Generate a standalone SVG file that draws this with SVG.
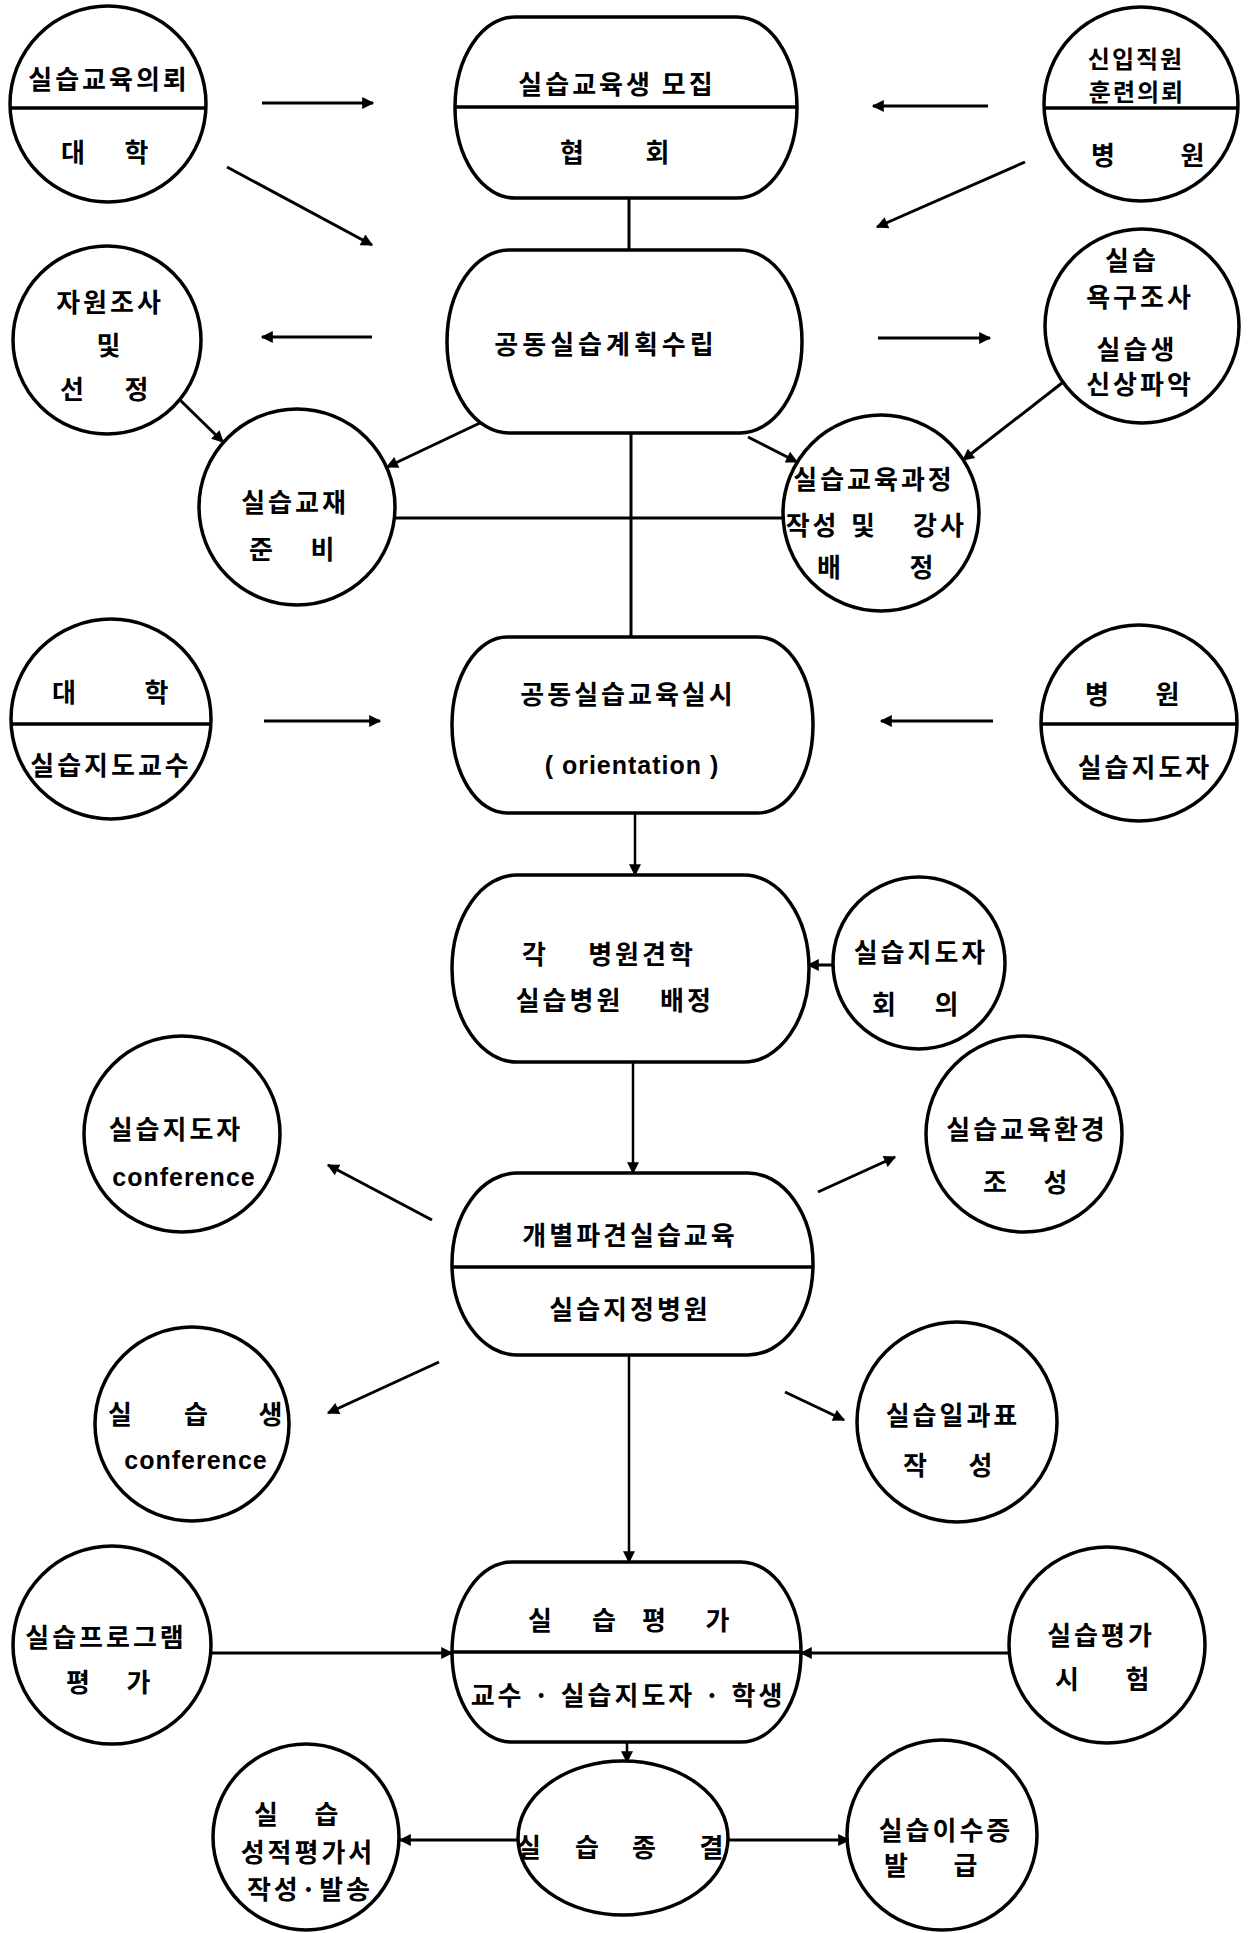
<svg xmlns="http://www.w3.org/2000/svg" width="1249" height="1933" viewBox="0 0 1249 1933">
<defs>
<style>
.nd{fill:#fff;stroke:#000;stroke-width:3.5}
.dv{stroke:#000;stroke-width:3.5;fill:none}
.t{font-family:"Noto Sans CJK KR","Noto Sans",sans-serif;font-weight:700;font-size:26px;letter-spacing:3px;text-anchor:middle;dominant-baseline:central;fill:#000}
.s{font-size:24px;letter-spacing:2px}
.en{font-family:"Liberation Sans",Arial,sans-serif;font-weight:700;font-size:25px;letter-spacing:1px}
.c{stroke:#000;stroke-width:3;fill:none}
.cv{stroke:#000;stroke-width:2.5;fill:none}
.a{marker-end:url(#ah)}
</style>
<marker id="ah" viewBox="0 0 10 10" refX="9" refY="5" markerWidth="15" markerHeight="12" markerUnits="userSpaceOnUse" orient="auto">
<path d="M0,0 L10,5 L0,10 z" fill="#000"/>
</marker>
</defs>
<rect width="1249" height="1933" fill="#fff"/>

<g id="connectors">
<line class="c a" x1="262" y1="103" x2="373" y2="103"/>
<line class="c a" x1="227" y1="167" x2="372" y2="245"/>
<line class="c a" x1="988" y1="106" x2="873" y2="106"/>
<line class="c a" x1="1025" y1="162" x2="877" y2="227"/>
<line class="c" x1="629" y1="198" x2="629" y2="250"/>
<line class="c a" x1="372" y1="337" x2="262" y2="337"/>
<line class="c a" x1="878" y1="338" x2="990" y2="338"/>
<line class="c a" x1="180" y1="400" x2="223" y2="442"/>
<line class="c a" x1="482" y1="422" x2="387" y2="467"/>
<line class="c a" x1="748" y1="437" x2="797" y2="462"/>
<line class="c a" x1="1062" y1="383" x2="963" y2="460"/>
<line class="c" x1="395" y1="518" x2="783" y2="518"/>
<line class="c" x1="631" y1="433" x2="631" y2="637"/>
<line class="c a" x1="264" y1="721" x2="380" y2="721"/>
<line class="c a" x1="993" y1="721" x2="881" y2="721"/>
<line class="cv a" x1="635" y1="813" x2="635" y2="875"/>
<line class="c a" x1="835" y1="965" x2="808" y2="965"/>
<line class="cv a" x1="633" y1="1062" x2="633" y2="1173"/>
<line class="c a" x1="432" y1="1220" x2="328" y2="1165"/>
<line class="c a" x1="818" y1="1192" x2="895" y2="1157"/>
<line class="c a" x1="439" y1="1362" x2="328" y2="1413"/>
<line class="c a" x1="785" y1="1392" x2="844" y2="1420"/>
<line class="cv a" x1="629" y1="1355" x2="629" y2="1562"/>
<line class="c a" x1="210" y1="1653" x2="452" y2="1653"/>
<line class="c a" x1="1009" y1="1653" x2="801" y2="1653"/>
<line class="cv a" x1="627" y1="1742" x2="627" y2="1762"/>
<line class="c a" x1="518" y1="1840" x2="400" y2="1840"/>
<line class="c a" x1="728" y1="1840" x2="849" y2="1840"/>
</g>

<g id="n-request-univ">
<circle class="nd" cx="108" cy="104" r="98"/>
<line class="dv" x1="10" y1="108" x2="206" y2="108"/>
<text class="t" x="109" y="77">실습교육의뢰</text>
<text class="t" y="150"><tspan x="79">대</tspan> <tspan x="138">학</tspan></text>
</g>

<g id="n-recruit">
<rect class="nd" x="455" y="17" width="342" height="181" rx="60" ry="90.5"/>
<line class="dv" x1="455" y1="107" x2="797" y2="107"/>
<text class="t" x="617" y="82" xml:space="preserve">실습교육생 모집</text>
<text class="t" y="150"><tspan x="578">협</tspan> <tspan x="659">회</tspan></text>
</g>

<g id="n-request-hosp">
<circle class="nd" cx="1141" cy="104" r="97"/>
<line class="dv" x1="1044" y1="108" x2="1238" y2="108"/>
<text class="t s" x="1136" y="57">신입직원</text>
<text class="t s" x="1137" y="90">훈련의뢰</text>
<text class="t" y="153"><tspan x="1109">병</tspan> <tspan x="1194">원</tspan></text>
</g>

<g id="n-resource">
<circle class="nd" cx="107" cy="340" r="94"/>
<text class="t" x="110" y="300">자원조사</text>
<text class="t" x="110" y="343">및</text>
<text class="t" y="387"><tspan x="78">선</tspan> <tspan x="138">정</tspan></text>
</g>

<g id="n-plan">
<rect class="nd" x="447" y="250" width="355" height="183" rx="62" ry="91.5"/>
<text class="t" x="606" y="342" style="letter-spacing:4px">공동실습계획수립</text>
</g>

<g id="n-needs">
<circle class="nd" cx="1142" cy="326" r="97"/>
<text class="t" x="1132" y="258">실습</text>
<text class="t" x="1140" y="295">욕구조사</text>
<text class="t" x="1137" y="347">실습생</text>
<text class="t" x="1140" y="382">신상파악</text>
</g>

<g id="n-material">
<circle class="nd" cx="297" cy="507" r="98"/>
<text class="t" x="295" y="500">실습교재</text>
<text class="t" y="547"><tspan x="267">준</tspan> <tspan x="324">비</tspan></text>
</g>

<g id="n-curriculum">
<circle class="nd" cx="881" cy="513" r="98"/>
<text class="t" x="874" y="477">실습교육과정</text>
<text class="t" y="523"><tspan x="817">작성</tspan> <tspan x="869">및</tspan> <tspan x="940">강사</tspan></text>
<text class="t" y="565"><tspan x="835">배</tspan> <tspan x="923">정</tspan></text>
</g>

<g id="n-univ-prof">
<circle class="nd" cx="111" cy="719" r="100"/>
<line class="dv" x1="11" y1="724" x2="211" y2="724"/>
<text class="t" y="690"><tspan x="70">대</tspan> <tspan x="158">학</tspan></text>
<text class="t" x="111" y="763">실습지도교수</text>
</g>

<g id="n-orientation">
<rect class="nd" x="452" y="637" width="361" height="176" rx="55" ry="88"/>
<text class="t" x="628" y="692">공동실습교육실시</text>
<text class="t en" x="632" y="765" xml:space="preserve">( orientation )</text>
</g>

<g id="n-hosp-inst">
<circle class="nd" cx="1139" cy="723" r="98"/>
<line class="dv" x1="1041" y1="724" x2="1237" y2="724"/>
<text class="t" y="692"><tspan x="1103">병</tspan> <tspan x="1169">원</tspan></text>
<text class="t" x="1145" y="765">실습지도자</text>
</g>

<g id="n-tour">
<rect class="nd" x="452" y="875" width="357" height="187" rx="65" ry="93.5"/>
<text class="t" y="952"><tspan x="540">각</tspan> <tspan x="642">병원견학</tspan></text>
<text class="t" y="998"><tspan x="574">실습병원</tspan> <tspan x="687">배정</tspan></text>
</g>

<g id="n-inst-meeting">
<circle class="nd" cx="919" cy="963" r="86"/>
<text class="t" x="921" y="950">실습지도자</text>
<text class="t" y="1002"><tspan x="890">회</tspan> <tspan x="948">의</tspan></text>
</g>

<g id="n-inst-conf">
<circle class="nd" cx="182" cy="1134" r="98"/>
<text class="t" x="176" y="1127">실습지도자</text>
<text class="t en" x="184" y="1177">conference</text>
</g>

<g id="n-environment">
<circle class="nd" cx="1024" cy="1134" r="98"/>
<text class="t" x="1027" y="1127">실습교육환경</text>
<text class="t" y="1180"><tspan x="1001">조</tspan> <tspan x="1057">성</tspan></text>
</g>

<g id="n-dispatch">
<rect class="nd" x="452" y="1173" width="361" height="182" rx="65" ry="91"/>
<line class="dv" x1="452" y1="1267" x2="813" y2="1267"/>
<text class="t" x="630" y="1233">개별파견실습교육</text>
<text class="t" x="630" y="1307">실습지정병원</text>
</g>

<g id="n-student-conf">
<circle class="nd" cx="192" cy="1424" r="97"/>
<text class="t" y="1412"><tspan x="126">실</tspan> <tspan x="202">습</tspan> <tspan x="272">생</tspan></text>
<text class="t en" x="196" y="1460">conference</text>
</g>

<g id="n-schedule">
<circle class="nd" cx="957" cy="1422" r="100"/>
<text class="t" x="953" y="1413">실습일과표</text>
<text class="t" y="1463"><tspan x="921">작</tspan> <tspan x="982">성</tspan></text>
</g>

<g id="n-program-eval">
<circle class="nd" cx="112" cy="1645" r="99"/>
<text class="t" x="106" y="1635">실습프로그램</text>
<text class="t" y="1680"><tspan x="84">평</tspan> <tspan x="140">가</tspan></text>
</g>

<g id="n-evaluation">
<rect class="nd" x="452" y="1562" width="349" height="180" rx="60" ry="90"/>
<line class="dv" x1="452" y1="1652" x2="801" y2="1652"/>
<text class="t" y="1618"><tspan x="546">실</tspan> <tspan x="610">습</tspan> <tspan x="660">평</tspan> <tspan x="719">가</tspan></text>
<text class="t" x="628" y="1693" xml:space="preserve">교수 · 실습지도자 · 학생</text>
</g>

<g id="n-exam">
<circle class="nd" cx="1107" cy="1645" r="98"/>
<text class="t" x="1101" y="1633">실습평가</text>
<text class="t" y="1677"><tspan x="1073">시</tspan> <tspan x="1139">험</tspan></text>
</g>

<g id="n-report">
<circle class="nd" cx="306" cy="1837" r="93"/>
<text class="t" y="1812"><tspan x="272">실</tspan> <tspan x="328">습</tspan></text>
<text class="t" x="308" y="1850">성적평가서</text>
<text class="t" x="310" y="1887">작성·발송</text>
</g>

<g id="n-finish">
<ellipse class="nd" cx="623" cy="1838" rx="105" ry="77"/>
<text class="t" y="1845"><tspan x="535">실</tspan> <tspan x="593">습</tspan> <tspan x="650">종</tspan> <tspan x="713">결</tspan></text>
</g>

<g id="n-certificate">
<circle class="nd" cx="942" cy="1835" r="95"/>
<text class="t" x="946" y="1828">실습이수증</text>
<text class="t" y="1863"><tspan x="902">발</tspan> <tspan x="967">급</tspan></text>
</g>
</svg>
